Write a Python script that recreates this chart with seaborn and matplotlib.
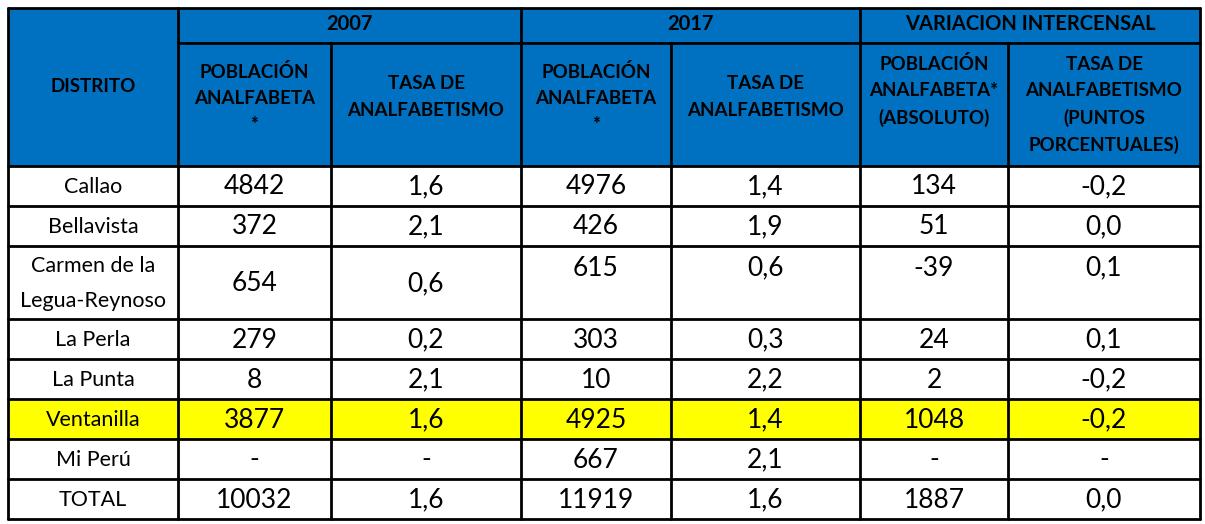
"""
Tabla: población analfabeta y tasa de analfabetismo por distrito (Callao), 2007 vs 2017
"""

import numpy as np
import matplotlib
matplotlib.use("Agg")
import matplotlib.pyplot as plt
from matplotlib.patches import Rectangle
import seaborn as sns

# ── Datos ────────────────────────────────────────────────────────────────────
distritos = ["Callao", "Bellavista", "Carmen de la\nLegua-Reynoso", "La Perla",
             "La Punta", "Ventanilla", "Mi Perú", "TOTAL"]
pob_2007  = [4842, 372, 654, 279, 8, 3877, None, 10032]
tasa_2007 = [1.6, 2.1, 0.6, 0.2, 2.1, 1.6, None, 1.6]
pob_2017  = [4976, 426, 615, 303, 10, 4925, 667, 11919]
tasa_2017 = [1.4, 1.9, 0.6, 0.3, 2.2, 1.4, 2.1, 1.6]
var_pob   = [134, 51, -39, 24, 2, 1048, None, 1887]
var_tasa  = [-0.2, 0.0, 0.1, 0.1, -0.2, -0.2, None, 0.0]

grupos = ["2007", "2017", "VARIACION INTERCENSAL"]
encabezados = [
    "DISTRITO",
    "POBLACIÓN\nANALFABETA\n*",
    "TASA DE\nANALFABETISMO",
    "POBLACIÓN\nANALFABETA\n*",
    "TASA DE\nANALFABETISMO",
    "POBLACIÓN\nANALFABETA*\n(ABSOLUTO)",
    "TASA DE\nANALFABETISMO\n(PUNTOS\nPORCENTUALES)",
]
resaltado = "Ventanilla"

# ── Estilo / layout (px) ─────────────────────────────────────────────────────
AZUL = "#0070C0"
AMARILLO = "#FFFF00"
x_bordes = [8, 178, 331, 521, 671, 860, 1008, 1200]
y_top, y_grupo, y_head = 8, 43, 166
alto_fila = [40, 40, 73, 40, 40, 40, 40, 40]
# centro vertical del texto de cada encabezado (Excel lo deja algo desigual)
y_txt_head = [86, 98, 97, 98, 97, 91, 105]
LW = 2.0

sns.set_theme(style="white")
plt.rcParams["font.family"] = ["Lato", "DejaVu Sans"]


def fmt_int(v):
    return "-" if v is None else f"{v}"


def fmt_dec(v):
    return "-" if v is None else f"{v:.1f}".replace(".", ",").replace("-0,0", "0,0")


def main():
    fig = plt.figure(figsize=(12.05, 5.24), dpi=100)
    ax = fig.add_axes([0, 0, 1, 1])
    ax.set_xlim(0, 1205)
    ax.set_ylim(524, 0)
    ax.axis("off")

    cols = [distritos,
            [fmt_int(v) for v in pob_2007], [fmt_dec(v) for v in tasa_2007],
            [fmt_int(v) for v in pob_2017], [fmt_dec(v) for v in tasa_2017],
            [fmt_int(v) for v in var_pob], [fmt_dec(v) for v in var_tasa]]

    # ── Encabezado ───────────────────────────────────────────────────────
    x0, x1 = x_bordes[0], x_bordes[-1]
    ax.add_patch(Rectangle((x0, y_top), x1 - x0, y_head - y_top,
                           facecolor=AZUL, edgecolor="none"))
    for i, g in enumerate(grupos):
        xa, xb = x_bordes[1 + 2 * i], x_bordes[3 + 2 * i]
        ax.text((xa + xb) / 2, 24, g, ha="center", va="center",
                fontsize=14.5, fontweight="bold", color="black")
        ax.plot([xa, xb], [y_grupo, y_grupo], color="black", lw=LW)
    for j, h in enumerate(encabezados):
        xa, xb = x_bordes[j], x_bordes[j + 1]
        ax.text((xa + xb) / 2, y_txt_head[j], h, ha="center", va="center",
                fontsize=13.5, fontweight="bold", color="black", linespacing=1.65)

    # ── Cuerpo ───────────────────────────────────────────────────────────
    y = y_head
    for i, d in enumerate(distritos):
        h = alto_fila[i]
        if d == resaltado:
            ax.add_patch(Rectangle((x0, y), x1 - x0, h, facecolor=AMARILLO,
                                   edgecolor="none"))
        for j in range(len(cols)):
            xa, xb = x_bordes[j], x_bordes[j + 1]
            yc = y + h / 2
            # en la fila de dos líneas, las columnas de 2017 van arriba
            if h > 50 and j >= 3:
                yc = y + 21
            if j == 0:
                ax.text((xa + xb) / 2, yc + 1, cols[j][i], ha="center", va="center",
                        fontsize=15.5, linespacing=1.9, color="black")
            else:
                ax.text((xa + xb) / 2, yc + 1, cols[j][i], ha="center", va="center",
                        fontsize=19, color="black")
        y += h
        ax.plot([x0, x1], [y, y], color="black", lw=LW)

    # ── Bordes ───────────────────────────────────────────────────────────
    y_bot = y
    ax.plot([x0, x1], [y_top, y_top], color="black", lw=LW)
    ax.plot([x0, x1], [y_head, y_head], color="black", lw=LW)
    for j, xb in enumerate(x_bordes):
        ya = y_grupo if j in (2, 4, 6) else y_top
        ax.plot([xb, xb], [ya, y_bot], color="black", lw=LW)

    fig.savefig("out.png", dpi=100, facecolor="white")
    plt.close(fig)


if __name__ == "__main__":
    main()
